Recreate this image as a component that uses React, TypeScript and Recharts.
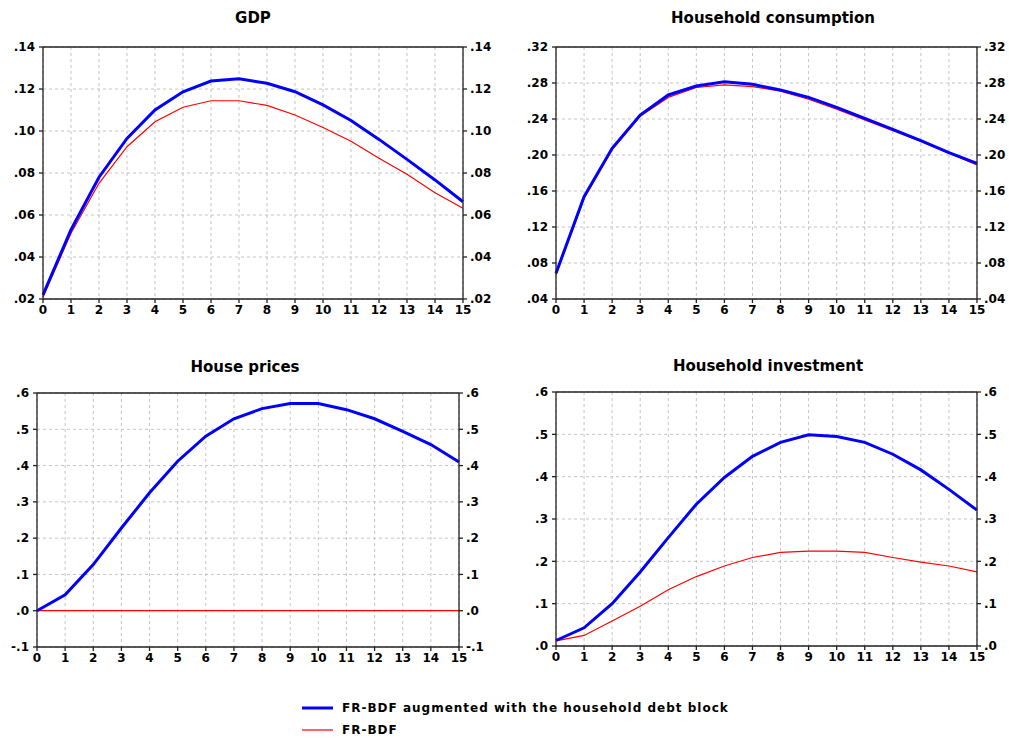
import { LineChart, Line, XAxis, YAxis, CartesianGrid, ReferenceLine } from "recharts";

const periods = [0, 1, 2, 3, 4, 5, 6, 7, 8, 9, 10, 11, 12, 13, 14, 15];

const gdpAugmented = [0.022, 0.053, 0.078, 0.0965, 0.11, 0.1187, 0.1238, 0.1249, 0.1227, 0.1187, 0.1124, 0.105, 0.096, 0.0865, 0.0767, 0.0663];
const gdpBase = [0.021, 0.0513, 0.0751, 0.0925, 0.1044, 0.1113, 0.1144, 0.1144, 0.1122, 0.1076, 0.1017, 0.0951, 0.087, 0.0794, 0.0706, 0.0632];

const consAugmented = [0.0685, 0.1537, 0.2074, 0.2444, 0.2667, 0.2767, 0.2815, 0.2785, 0.2722, 0.264, 0.253, 0.2407, 0.2285, 0.216, 0.2026, 0.1907];
const consBase = [0.067, 0.152, 0.206, 0.243, 0.264, 0.275, 0.278, 0.276, 0.271, 0.262, 0.251, 0.239, 0.227, 0.215, 0.202, 0.189];

const pricesAugmented = [0, 0.044, 0.127, 0.228, 0.325, 0.412, 0.481, 0.529, 0.557, 0.571, 0.571, 0.554, 0.529, 0.494, 0.458, 0.41];
const pricesBase = [0, 0, 0, 0, 0, 0, 0, 0, 0, 0, 0, 0, 0, 0, 0, 0];

const invAugmented = [0.013, 0.043, 0.1, 0.175, 0.256, 0.335, 0.398, 0.448, 0.481, 0.499, 0.495, 0.481, 0.453, 0.416, 0.37, 0.321];
const invBase = [0.012, 0.025, 0.059, 0.094, 0.133, 0.164, 0.189, 0.209, 0.221, 0.224, 0.224, 0.221, 0.209, 0.198, 0.189, 0.175];

const gdpTicks = [0.02, 0.04, 0.06, 0.08, 0.1, 0.12, 0.14];
const consTicks = [0.04, 0.08, 0.12, 0.16, 0.2, 0.24, 0.28, 0.32];
const pricesTicks = [-0.1, 0, 0.1, 0.2, 0.3, 0.4, 0.5, 0.6];
const invTicks = [0, 0.1, 0.2, 0.3, 0.4, 0.5, 0.6];

const seriesNames = ["FR-BDF augmented with the household debt block", "FR-BDF"];

const FONT = "'DejaVu Sans', Verdana, sans-serif";
const tickStyle = { fontSize: 12, fontWeight: "bold", fill: "#000", fontFamily: FONT };

const fmt = (decimals: number) => (v: number) =>
  v.toFixed(decimals).replace(/^(-?)0\./, "$1.");

type PanelProps = {
  title: string;
  augmented: number[];
  base: number[];
  ticks: number[];
  decimals: number;
  left: number;
  top: number;
  width: number;
  height: number;
  margin: { top: number; right: number; bottom: number; left: number };
  leftWidth: number;
  rightWidth: number;
  titleX: number;
  titleY: number;
};

function Panel(p: PanelProps) {
  const data = periods.map((t, i) => ({ t, augmented: p.augmented[i], base: p.base[i] }));
  const domain = [p.ticks[0], p.ticks[p.ticks.length - 1]];
  return (
    <div style={{ position: "absolute", left: p.left, top: p.top, width: p.width, height: p.height }}>
      <div
        style={{
          position: "absolute",
          left: p.titleX - 150,
          width: 300,
          top: p.titleY,
          textAlign: "center",
          fontFamily: FONT,
          fontWeight: "bold",
          fontSize: 15,
        }}
      >
        {p.title}
      </div>
      <LineChart width={p.width} height={p.height} data={data} margin={p.margin}>
        <CartesianGrid stroke="#c4c4c4" strokeDasharray="3 3" />
        <XAxis
          dataKey="t"
          type="number"
          domain={[0, 15]}
          ticks={periods}
          interval={0}
          height={20}
          stroke="#222"
          strokeWidth={1.3}
          tickSize={4}
          tickMargin={2}
          tick={tickStyle}
        />
        <YAxis
          type="number"
          domain={domain}
          ticks={p.ticks}
          interval={0}
          width={p.leftWidth}
          stroke="#222"
          strokeWidth={1.3}
          tickSize={4}
          tickMargin={4}
          tick={tickStyle}
          tickFormatter={fmt(p.decimals)}
        />
        <YAxis
          yAxisId="right"
          orientation="right"
          type="number"
          domain={domain}
          ticks={p.ticks}
          interval={0}
          width={p.rightWidth}
          stroke="#222"
          strokeWidth={1.3}
          tickSize={4}
          tickMargin={3}
          tick={tickStyle}
          tickFormatter={fmt(p.decimals)}
        />
        <ReferenceLine y={domain[1]} stroke="#222" strokeWidth={1.3} />
        <Line
          type="linear"
          dataKey="base"
          yAxisId="right"
          stroke="#ff0000"
          strokeWidth={1.2}
          dot={false}
          isAnimationActive={false}
        />
        <Line
          type="linear"
          dataKey="augmented"
          stroke="#0000ff"
          strokeWidth={3}
          dot={false}
          isAnimationActive={false}
        />
      </LineChart>
    </div>
  );
}

export default function App() {
  return (
    <div style={{ position: "absolute", left: 0, top: 0, width: 1009, height: 738, background: "#fff", fontFamily: FONT }}>
      <Panel
        title="GDP"
        augmented={gdpAugmented}
        base={gdpBase}
        ticks={gdpTicks}
        decimals={2}
        left={0}
        top={0}
        width={510}
        height={330}
        margin={{ top: 47, right: 7, bottom: 11, left: 0 }}
        leftWidth={43}
        rightWidth={40}
        titleX={253}
        titleY={9}
      />
      <Panel
        title="Household consumption"
        augmented={consAugmented}
        base={consBase}
        ticks={consTicks}
        decimals={2}
        left={510}
        top={0}
        width={499}
        height={330}
        margin={{ top: 47, right: 2, bottom: 11, left: 0 }}
        leftWidth={46}
        rightWidth={30}
        titleX={263}
        titleY={9}
      />
      <Panel
        title="House prices"
        augmented={pricesAugmented}
        base={pricesBase}
        ticks={pricesTicks}
        decimals={1}
        left={0}
        top={330}
        width={510}
        height={340}
        margin={{ top: 63, right: 11, bottom: 3, left: 0 }}
        leftWidth={37}
        rightWidth={40}
        titleX={245}
        titleY={28}
      />
      <Panel
        title="Household investment"
        augmented={invAugmented}
        base={invBase}
        ticks={invTicks}
        decimals={1}
        left={510}
        top={330}
        width={499}
        height={340}
        margin={{ top: 62, right: 2, bottom: 4, left: 0 }}
        leftWidth={46}
        rightWidth={30}
        titleX={258}
        titleY={27}
      />
      <div style={{ position: "absolute", left: 300, top: 697, fontFamily: FONT, fontWeight: "bold", fontSize: 12, letterSpacing: 1 }}>
        {seriesNames.map((name, i) => (
          <div key={name} style={{ display: "flex", alignItems: "center", height: 22, lineHeight: "14px" }}>
            <svg width={42} height={10}>
              <line x1={2} x2={33} y1={5} y2={5} stroke={i === 0 ? "#0000ff" : "#ff0000"} strokeWidth={i === 0 ? 3 : 1.2} />
            </svg>
            <span>{name}</span>
          </div>
        ))}
      </div>
    </div>
  );
}
